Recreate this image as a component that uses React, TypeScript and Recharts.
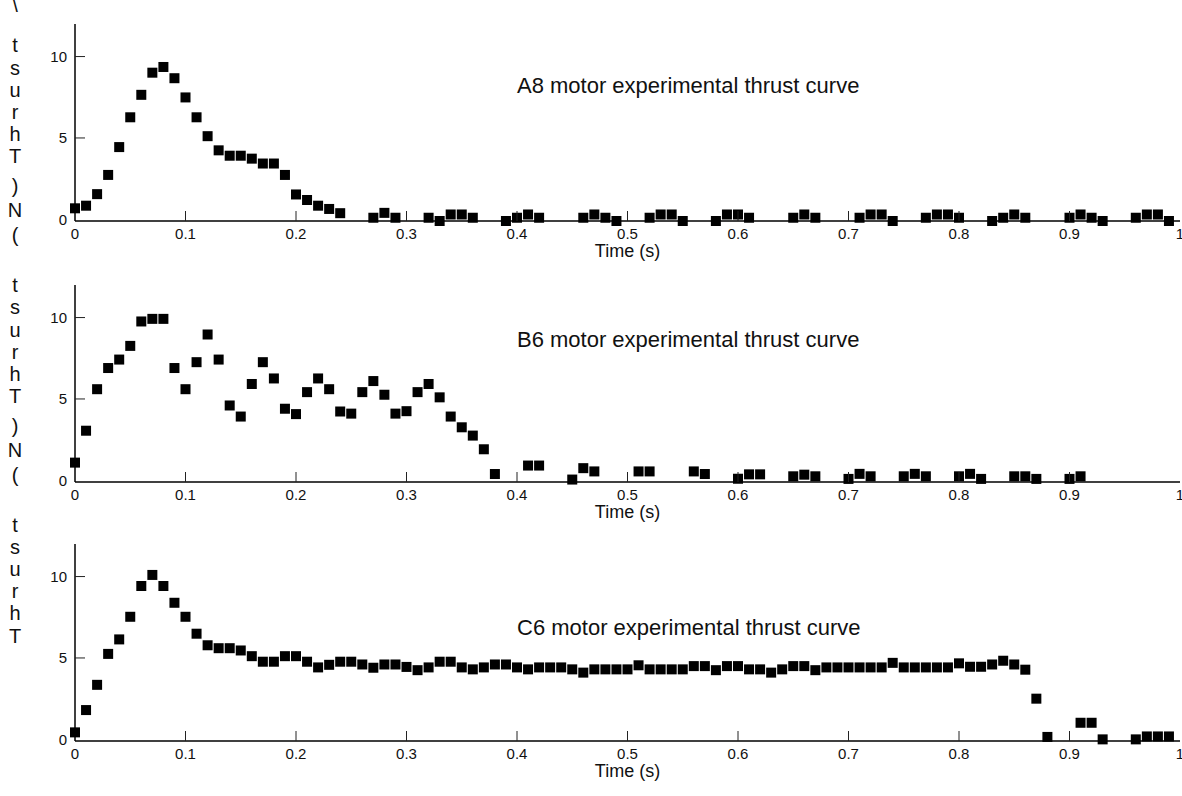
import React from 'react'
import { ScatterChart, Scatter, XAxis, YAxis } from 'recharts'

const X_TICKS = [0, 0.1, 0.2, 0.3, 0.4, 0.5, 0.6, 0.7, 0.8, 0.9, 1]
const Y_TICKS = [0, 5, 10]
const Y_DOMAIN: [number, number] = [-0.1, 12]

const A8_TIME = [
	0, 0.01, 0.02, 0.03, 0.04, 0.05, 0.06, 0.07, 0.08, 0.09, 0.1, 0.11, 0.12,
	0.13, 0.14, 0.15, 0.16, 0.17, 0.18, 0.19, 0.2, 0.21, 0.22, 0.23, 0.24, 0.27,
	0.28, 0.29, 0.32, 0.33, 0.34, 0.35, 0.36, 0.39, 0.4, 0.41, 0.42, 0.46, 0.47,
	0.48, 0.49, 0.52, 0.53, 0.54, 0.55, 0.58, 0.59, 0.6, 0.61, 0.65, 0.66, 0.67,
	0.71, 0.72, 0.73, 0.74, 0.77, 0.78, 0.79, 0.8, 0.83, 0.84, 0.85, 0.86, 0.9,
	0.91, 0.92, 0.93, 0.96, 0.97, 0.98, 0.99,
]
const A8_THRUST = [
	0.68, 0.84, 1.55, 2.73, 4.44, 6.27, 7.65, 9.01, 9.36, 8.67, 7.49, 6.27, 5.11,
	4.24, 3.91, 3.91, 3.73, 3.43, 3.43, 2.73, 1.53, 1.19, 0.84, 0.64, 0.38, 0.1,
	0.4, 0.1, 0.1, -0.1, 0.3, 0.3, 0.1, -0.1, 0.1, 0.3, 0.1, 0.1, 0.3, 0.1, -0.1,
	0.1, 0.3, 0.3, -0.1, -0.1, 0.3, 0.3, 0.1, 0.1, 0.3, 0.1, 0.1, 0.3, 0.3, -0.1,
	0.1, 0.3, 0.3, 0.1, -0.1, 0.1, 0.3, 0.1, 0.1, 0.3, 0.1, -0.1, 0.1, 0.3, 0.3,
	-0.1,
]

const B6_TIME = [
	0, 0.01, 0.02, 0.03, 0.04, 0.05, 0.06, 0.07, 0.08, 0.09, 0.1, 0.11, 0.12,
	0.13, 0.14, 0.15, 0.16, 0.17, 0.18, 0.19, 0.2, 0.21, 0.22, 0.23, 0.24, 0.25,
	0.26, 0.27, 0.28, 0.29, 0.3, 0.31, 0.32, 0.33, 0.34, 0.35, 0.36, 0.37, 0.38,
	0.41, 0.42, 0.45, 0.46, 0.47, 0.51, 0.52, 0.56, 0.57, 0.6, 0.61, 0.62, 0.65,
	0.66, 0.67, 0.7, 0.71, 0.72, 0.75, 0.76, 0.77, 0.8, 0.81, 0.82, 0.85, 0.86,
	0.87, 0.9, 0.91,
]
const B6_THRUST = [
	1.09, 3.05, 5.6, 6.9, 7.42, 8.26, 9.76, 9.92, 9.92, 6.9, 5.6, 7.26, 8.96,
	7.42, 4.6, 3.92, 5.92, 7.26, 6.26, 4.4, 4.07, 5.42, 6.26, 5.6, 4.23, 4.1,
	5.42, 6.1, 5.26, 4.1, 4.25, 5.42, 5.92, 5.1, 3.92, 3.26, 2.75, 1.91, 0.39,
	0.91, 0.91, 0.05, 0.75, 0.55, 0.55, 0.55, 0.55, 0.39, 0.1, 0.37, 0.37, 0.25,
	0.35, 0.25, 0.09, 0.4, 0.25, 0.25, 0.4, 0.25, 0.25, 0.4, 0.09, 0.25, 0.25,
	0.09, 0.09, 0.25,
]

const C6_TIME = [
	0, 0.01, 0.02, 0.03, 0.04, 0.05, 0.06, 0.07, 0.08, 0.09, 0.1, 0.11, 0.12,
	0.13, 0.14, 0.15, 0.16, 0.17, 0.18, 0.19, 0.2, 0.21, 0.22, 0.23, 0.24, 0.25,
	0.26, 0.27, 0.28, 0.29, 0.3, 0.31, 0.32, 0.33, 0.34, 0.35, 0.36, 0.37, 0.38,
	0.39, 0.4, 0.41, 0.42, 0.43, 0.44, 0.45, 0.46, 0.47, 0.48, 0.49, 0.5, 0.51,
	0.52, 0.53, 0.54, 0.55, 0.56, 0.57, 0.58, 0.59, 0.6, 0.61, 0.62, 0.63, 0.64,
	0.65, 0.66, 0.67, 0.68, 0.69, 0.7, 0.71, 0.72, 0.73, 0.74, 0.75, 0.76, 0.77,
	0.78, 0.79, 0.8, 0.81, 0.82, 0.83, 0.84, 0.85, 0.86, 0.87, 0.88, 0.91, 0.92,
	0.93, 0.96, 0.97, 0.98, 0.99,
]
const C6_THRUST = [
	0.43, 1.8, 3.35, 5.25, 6.14, 7.53, 9.42, 10.1, 9.42, 8.39, 7.53, 6.49, 5.78,
	5.6, 5.6, 5.46, 5.11, 4.77, 4.77, 5.11, 5.11, 4.77, 4.42, 4.58, 4.77, 4.77,
	4.6, 4.4, 4.6, 4.6, 4.45, 4.25, 4.42, 4.77, 4.77, 4.42, 4.3, 4.42, 4.6, 4.6,
	4.42, 4.3, 4.42, 4.42, 4.42, 4.3, 4.1, 4.3, 4.3, 4.3, 4.3, 4.55, 4.3, 4.3,
	4.3, 4.3, 4.5, 4.5, 4.25, 4.5, 4.5, 4.3, 4.3, 4.1, 4.3, 4.5, 4.5, 4.25, 4.42,
	4.42, 4.42, 4.42, 4.42, 4.42, 4.7, 4.42, 4.42, 4.42, 4.42, 4.42, 4.67, 4.46,
	4.46, 4.6, 4.83, 4.6, 4.28, 2.5, 0.15, 1.02, 1.02, 0, 0, 0.18, 0.18, 0.18,
]

// stacked y-label glyphs down the left edge, as they appear
const SIDE_CHARS = [
	'\\', 't', 's', 'u', 'r', 'h', 'T', ')', 'N', '(',
	't', 's', 'u', 'r', 'h', 'T', ')', 'N', '(',
	't', 's', 'u', 'r', 'h', 'T',
]
const SIDE_Y = [
	5, 45, 68, 90, 112, 134, 156, 186, 210, 235, 285, 307, 330, 352, 374, 396,
	426, 450, 475, 525, 547, 569, 591, 613, 636,
]

const FONT = '"Liberation Sans", Arial, Helvetica, sans-serif'
const AXIS_LINE = { stroke: '#000', strokeWidth: 1.5 }
const TICK_STROKE = '#222'

function toPoints(time: number[], thrust: number[]) {
	return time.map((t, i) => ({ t, v: thrust[i] }))
}

const PANELS = [
	{ title: 'A8 motor experimental thrust curve', data: toPoints(A8_TIME, A8_THRUST), top: 14, titleY: 93 },
	{ title: 'B6 motor experimental thrust curve', data: toPoints(B6_TIME, B6_THRUST), top: 275, titleY: 347 },
	{ title: 'C6 motor experimental thrust curve', data: toPoints(C6_TIME, C6_THRUST), top: 534, titleY: 635 },
]

const inner = (v: number, lo: number, hi: number) => v > lo && v < hi

function BottomTick(p: any) {
	const axisY = p.y - 7
	return (
		<g>
			{inner(p.payload.value, 0, 1) && (
				<line x1={p.x} x2={p.x} y1={axisY} y2={axisY - 10} stroke={TICK_STROKE} />
			)}
			<text x={p.x} y={p.y} dy='0.71em' textAnchor='middle' fontSize={15} fill='#111' fontFamily={FONT}>
				{p.payload.value}
			</text>
		</g>
	)
}

function TopTick(p: any) {
	if (!inner(p.payload.value, 0, 1)) return <g />
	return <line x1={p.x} x2={p.x} y1={p.y} y2={p.y + 10} stroke={TICK_STROKE} />
}

function LeftTick(p: any) {
	const axisX = p.x + 8
	return (
		<g>
			{p.payload.value > 0 && (
				<line x1={axisX} x2={axisX + 10} y1={p.y} y2={p.y} stroke={TICK_STROKE} />
			)}
			<text x={p.x} y={p.y} dy='0.355em' textAnchor='end' fontSize={15} fill='#111' fontFamily={FONT}>
				{p.payload.value}
			</text>
		</g>
	)
}

function RightTick(p: any) {
	if (p.payload.value <= 0) return <g />
	return <line x1={p.x} x2={p.x - 10} y1={p.y} y2={p.y} stroke={TICK_STROKE} />
}

function Square(p: any) {
	return <rect x={p.cx - 5} y={p.cy - 5} width={10} height={10} fill='#000' />
}

function Panel({ data, top }: { data: { t: number; v: number }[]; top: number }) {
	return (
		<div style={{ position: 'absolute', left: 0, top }}>
			<ScatterChart width={1182} height={261} margin={{ top: 10, right: 2, bottom: 0, left: 0 }}>
				<XAxis
					xAxisId='b'
					type='number'
					dataKey='t'
					domain={[0, 1]}
					ticks={X_TICKS}
					interval={0}
					height={54}
					tickSize={0}
					tickMargin={7}
					tick={BottomTick}
					axisLine={AXIS_LINE}
					label={{
						value: 'Time (s)',
						position: 'insideBottom',
						offset: 18,
						fontSize: 18,
						fill: '#111',
						fontFamily: FONT,
					}}
				/>
				<XAxis
					xAxisId='t'
					orientation='top'
					type='number'
					domain={[0, 1]}
					ticks={X_TICKS}
					interval={0}
					height={0}
					tickSize={0}
					tickMargin={0}
					tick={TopTick}
					axisLine={AXIS_LINE}
				/>
				<YAxis
					yAxisId='l'
					type='number'
					dataKey='v'
					domain={Y_DOMAIN}
					ticks={Y_TICKS}
					interval={0}
					width={75}
					tickSize={0}
					tickMargin={8}
					tick={LeftTick}
					axisLine={AXIS_LINE}
				/>
				<YAxis
					yAxisId='r'
					orientation='right'
					type='number'
					domain={Y_DOMAIN}
					ticks={Y_TICKS}
					interval={0}
					width={0}
					tickSize={0}
					tickMargin={0}
					tick={RightTick}
					axisLine={AXIS_LINE}
				/>
				<Scatter
					xAxisId='b'
					yAxisId='l'
					data={data}
					shape={Square}
					isAnimationActive={false}
				/>
			</ScatterChart>
		</div>
	)
}

export default function App() {
	return (
		<div
			style={{
				position: 'relative',
				width: 1182,
				height: 796,
				overflow: 'hidden',
				background: '#fff',
				fontFamily: FONT,
			}}
		>
			<style>{'body{margin:0}'}</style>
			{PANELS.map(p => (
				<Panel key={p.title} data={p.data} top={p.top} />
			))}
			<svg
				width={1182}
				height={796}
				style={{ position: 'absolute', left: 0, top: 0, pointerEvents: 'none' }}
			>
				{PANELS.map(p => (
					<text key={p.title} x={517} y={p.titleY} fontSize={22} fill='#111' fontFamily={FONT}>
						{p.title}
					</text>
				))}
				{SIDE_CHARS.map((c, i) => (
					<text
						key={i}
						x={15}
						y={SIDE_Y[i]}
						dominantBaseline='central'
						textAnchor='middle'
						fontSize={20}
						fill='#111'
						fontFamily={FONT}
					>
						{c}
					</text>
				))}
			</svg>
		</div>
	)
}
